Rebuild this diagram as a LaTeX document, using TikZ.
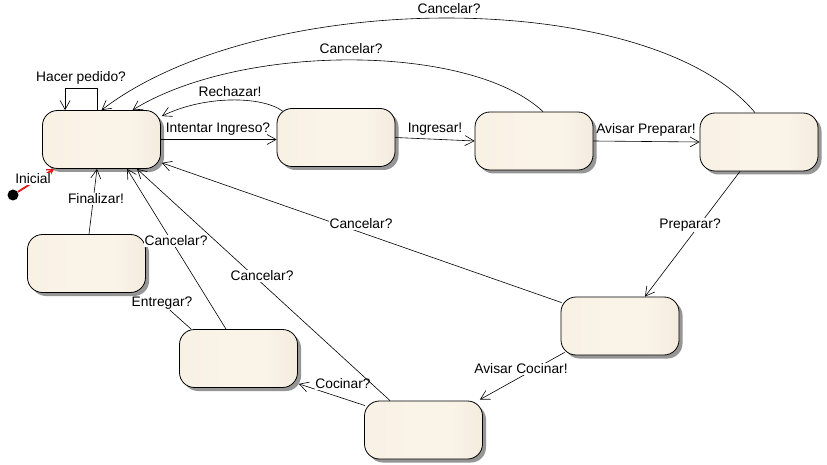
\documentclass[tikz,border=0pt]{standalone}
\usepackage{fontspec}
\setmainfont{Liberation Sans}
\usetikzlibrary{arrows.meta,shadows,calc}
\definecolor{stA}{RGB}{245,237,224}
\definecolor{stB}{RGB}{250,243,231}
\definecolor{stC}{RGB}{229,220,205}
\definecolor{shadowgray}{RGB}{150,150,150}
\definecolor{initred}{RGB}{230,20,20}
\pgfdeclarehorizontalshading{stfill}{100bp}{color(0bp)=(stA); color(45bp)=(stB); color(62bp)=(stB); color(100bp)=(stC)}
\begin{document}
\begin{tikzpicture}[x=1pt,y=-1pt,
  state/.style={draw=black, line width=0.8pt, rounded corners=15pt,
    minimum width=118pt, minimum height=58pt, inner sep=0pt, shading=stfill,
    drop shadow={shadow xshift=3.5pt, shadow yshift=-3.5pt, fill=shadowgray, opacity=1}},
  tr/.style={draw=black, line width=0.6pt, -{Straight Barb[length=9pt,width=10pt,line width=0.6pt]}},
  plain/.style={draw=black, line width=0.6pt},
  lbl/.style={fill=white, inner sep=0.5pt, font=\fontsize{13.8}{15}\selectfont},
  lblfree/.style={inner sep=0.5pt, font=\fontsize{13.8}{15}\selectfont}]
\useasboundingbox[fill=white] (0,0) rectangle (827,465);

% states
\node[state] (A) at (101.5,139.5) {};
\node[state] (B) at (336,137.5) {};
\node[state] (C) at (534,141) {};
\node[state] (D) at (759,142) {};
\node[state] (E) at (620,326) {};
\node[state] (F) at (423.5,430) {};
\node[state] (G) at (238.5,358.5) {};
\node[state] (H) at (86.5,263.5) {};

% initial
\node[circle, fill=black, inner sep=0pt, minimum size=11pt] (init) at (13,195) {};
\draw[initred, line width=1.8pt, -{Straight Barb[length=6pt,width=7pt,line width=1.2pt]}]
  (init) -- ([shift={(12,0)}]A.south west);
\node[lbl] (lInicial) at (33,179) {Inicial};

% self loop
\draw[tr] ([shift={(55,0)}]A.north west) -- ++(0,-22) -| ([shift={(23,0)}]A.north west);
\node[lblfree] (lHacer) at (81,78) {Hacer pedido?};

% big cancel arcs
\draw[tr] ([shift={(-4,0)}]D.north) .. controls (650,-13) and (262,-13) .. (A.north);
\node[lblfree] (lCanc1) at (449,9) {Cancelar?};
\draw[tr] ([shift={(9,0)}]C.north) .. controls (470,43) and (241,43) .. ([shift={(31,0)}]A.north);
\node[lblfree] (lCanc2) at (351,49) {Cancelar?};

% rechazar
\draw[tr] ([shift={(6,3)}]B.north west) .. controls (262,96) and (205,95) .. ([shift={(1,6)}]A.north east);
\node[lblfree] (lRech) at (230,92) {Rechazar!};

% main row
\draw[tr] (A.east) -- (A.east -| B.west);
\node[lblfree] (lIntent) at (218,129) {Intentar Ingreso?};
\draw[tr] (B.east) -- (C.west);
\node[lblfree] (lIngr) at (435,129) {Ingresar!};
\draw[tr] (C.east) -- (D.west);
\node[lblfree] (lAvP) at (646,130) {Avisar Preparar!};

% right side down
\draw[tr] ([shift={(-19,0)}]D.south) -- ([shift={(25,0)}]E.north);
\node[lbl] (lPrep) at (690,225) {Preparar?};
\draw[tr] ([shift={(4,-3)}]E.south west) -- ([shift={(-3,-1)}]F.north east);
\node[lbl] (lAvC) at (521,369) {Avisar Cocinar!};
\draw[tr] ([shift={(1,5)}]F.north west) -- ([shift={(1,-4)}]G.south east);
\node[lbl] (lCoc) at (343,384) {Cocinar?};

% entregar
\node[lbl] (lEntr) at (162,303) {Entregar?};
\draw[plain] ([shift={(12,0)}]G.north west) -- (lEntr);

% finalizar
\draw[tr] ([shift={(2.5,0)}]H.north) -- ([shift={(-4.5,0)}]A.south);
\node[lbl] (lFin) at (96,199) {Finalizar!};

% cancel lines to A
\draw[tr] ([shift={(-12.5,0)}]G.north) -- ([shift={(25.5,0)}]A.south);
\node[lbl] (lCanc3) at (176,241) {Cancelar?};
\draw[tr] ([shift={(-33.5,0)}]F.north) -- ([shift={(35.5,0)}]A.south);
\node[lbl] (lCanc4) at (262,276) {Cancelar?};
\draw[tr] ([shift={(1,6)}]E.north west) -- ([shift={(1,-6)}]A.south east);
\node[lbl] (lCanc5) at (361,224) {Cancelar?};
\end{tikzpicture}
\end{document}
